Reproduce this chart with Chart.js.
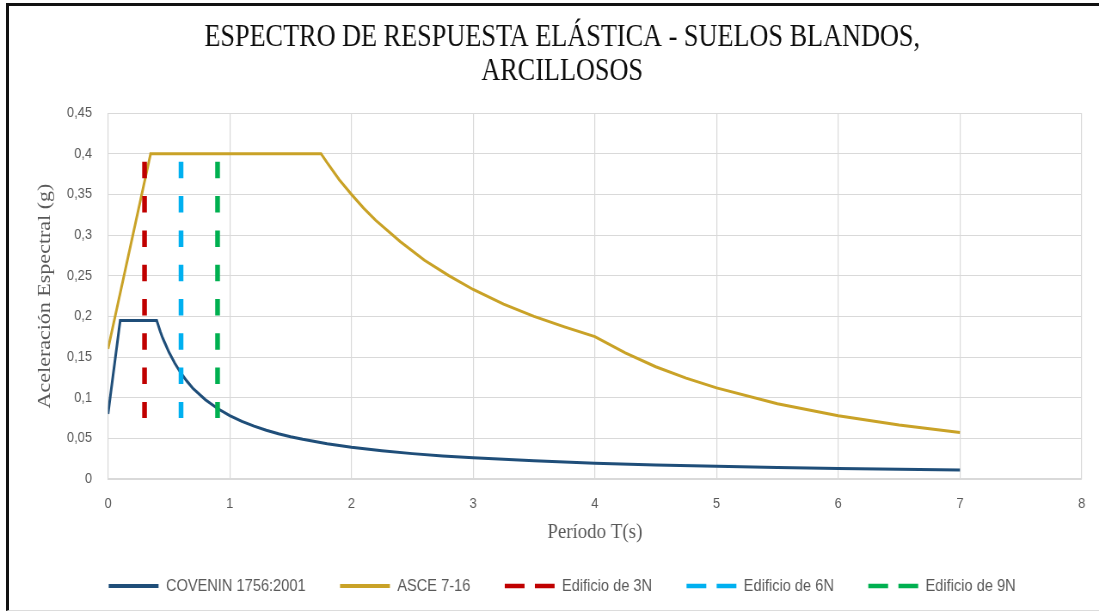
<!DOCTYPE html>
<html>
<head>
<meta charset="utf-8">
<script src="https://cdn.jsdelivr.net/npm/chart.js@4/dist/chart.umd.min.js"></script>
<style>
  html, body { margin: 0; padding: 0; background: #fff; overflow: hidden; }
  #frame { position: absolute; left: 0; top: 0; width: 1099px; height: 613px; }
  /* the chart is laid out on a wider canvas and shown condensed to 1099px */
  #c { position: absolute; left: 0; top: 0; }
  #edge {
    position: absolute; left: 6px; top: 3px; right: 0; height: 604px;
    border-left: 3px solid #111; border-top: 3px solid #111; border-bottom: 1px solid #dcdcdc;
    pointer-events: none;
  }
</style>
</head>
<body>
<div id="frame">
  <canvas id="c" width="1278" height="613" style="width:1099px;height:613px"></canvas>
  <div id="edge"></div>
</div>
<script>
// Chart text
const titleLines = ['ESPECTRO DE RESPUESTA ELÁSTICA - SUELOS BLANDOS,', 'ARCILLOSOS'];
const xTitle = 'Período T(s)';
const yTitle = 'Aceleración Espectral (g)';
const seriesNames = ['COVENIN 1756:2001', 'ASCE 7-16'];
const buildingNames = ['Edificio de 3N', 'Edificio de 6N', 'Edificio de 9N'];

// Tick labels (comma decimal)
const xTickLabels = ['0', '1', '2', '3', '4', '5', '6', '7', '8'];
const yTickLabels = ['0', '0,05', '0,1', '0,15', '0,2', '0,25', '0,3', '0,35', '0,4', '0,45'];

// COVENIN 1756:2001 spectrum: period (s) and spectral acceleration (g)
const periodsCovenin = [0, 0.1, 0.4, 0.43, 0.45, 0.48, 0.5, 0.55, 0.6, 0.65,
  0.7, 0.8, 0.9, 1.0, 1.1, 1.2, 1.3, 1.4, 1.5, 1.6,
  1.8, 2.0, 2.25, 2.5, 2.75, 3.0, 3.5, 4.0, 4.5, 5.0,
  5.5, 6.0, 6.5, 7.0];
const accelCovenin = [0.08, 0.195, 0.195, 0.181, 0.173, 0.163, 0.156, 0.142, 0.130, 0.120,
  0.111, 0.0975, 0.0867, 0.078, 0.0709, 0.065, 0.060, 0.0557, 0.052, 0.0488,
  0.0433, 0.039, 0.0347, 0.0312, 0.0284, 0.026, 0.0223, 0.0195, 0.0173, 0.0156,
  0.0142, 0.013, 0.012, 0.0111];

// ASCE 7-16 spectrum
const periodsAsce = [0, 0.35, 1.75, 1.8, 1.9, 2.0, 2.1, 2.2, 2.4, 2.6,
  2.8, 3.0, 3.25, 3.5, 3.75, 4.0, 4.25, 4.5, 4.75, 5.0,
  5.5, 6.0, 6.5, 7.0];
const accelAsce = [0.16, 0.40, 0.40, 0.389, 0.368, 0.350, 0.333, 0.318, 0.292, 0.269,
  0.250, 0.233, 0.215, 0.200, 0.187, 0.175, 0.155, 0.138, 0.124, 0.112,
  0.0926, 0.0778, 0.0663, 0.0571];

// Fundamental periods of the buildings and the acceleration span of their marker lines
const buildingPeriods = [0.3, 0.6, 0.9];
const markerSpan = [0.39, 0.075];

const GREY = '#595959';
const GRID = '#d9d9d9';
const SANS = "'Liberation Sans', Arial, sans-serif";
const SERIF = "'Liberation Serif', 'Times New Roman', serif";

const toPoints = (xs, ys) => xs.map((x, i) => ({ x: x, y: ys[i] }));

const mainStyles = [
  { color: '#1f4e79' },
  { color: '#c9a227' }
];
const markerStyles = [
  { color: '#c00000' },
  { color: '#00b0f0' },
  { color: '#00b050' }
];

const datasets = [];
seriesNames.forEach((name, i) => {
  const pts = i === 0 ? toPoints(periodsCovenin, accelCovenin) : toPoints(periodsAsce, accelAsce);
  datasets.push({
    label: name,
    data: pts,
    borderColor: mainStyles[i].color,
    backgroundColor: mainStyles[i].color,
    borderWidth: 3,
    pointRadius: 0,
    tension: 0,
    order: 1,
    legendWidth: 4
  });
});
buildingNames.forEach((name, i) => {
  datasets.push({
    label: name,
    data: markerSpan.map(v => ({ x: buildingPeriods[i], y: v })),
    borderColor: markerStyles[i].color,
    backgroundColor: markerStyles[i].color,
    borderWidth: 5.5,
    borderDash: [16.5, 17.8],
    borderCapStyle: 'butt',
    pointRadius: 0,
    order: 0,
    legendDash: [23, 12],
    legendWidth: 4.5
  });
});

new Chart(document.getElementById('c'), {
  type: 'line',
  data: { datasets: datasets },
  options: {
    responsive: false,
    animation: false,
    events: [],
    layout: { padding: { left: 47, right: 17.5, top: 6, bottom: 8.5 } },
    plugins: {
      tooltip: { enabled: false },
      title: {
        display: true,
        text: titleLines,
        color: '#0d0d0d',
        font: { family: SERIF, size: 30.5, weight: 'normal', lineHeight: 1.12 },
        padding: { top: 14.9, bottom: 23.8 }
      },
      legend: {
        position: 'bottom',
        labels: {
          usePointStyle: true,
          pointStyle: 'line',
          pointStyleWidth: 58,
          padding: 40,
          color: GREY,
          font: { family: SANS, size: 17 },
          sort: (a, b) => a.datasetIndex - b.datasetIndex,
          generateLabels(chart) {
            const items = Chart.defaults.plugins.legend.labels.generateLabels(chart);
            items.forEach(it => {
              const ds = chart.data.datasets[it.datasetIndex];
              it.lineDash = ds.legendDash || [];
              it.lineWidth = ds.legendWidth || it.lineWidth;
              it.lineCap = 'butt';
            });
            return items;
          }
        }
      }
    },
    scales: {
      x: {
        type: 'linear',
        min: 0,
        max: 8,
        ticks: {
          stepSize: 1,
          padding: 16,
          color: GREY,
          font: { family: SANS, size: 15 },
          callback: (v, i) => xTickLabels[i]
        },
        grid: { color: GRID, lineWidth: 1.2, drawTicks: false },
        border: { color: GRID, width: 1.2 },
        title: {
          display: true,
          text: xTitle,
          color: GREY,
          font: { family: SERIF, size: 22, lineHeight: 0.5 },
          padding: 0
        },
        afterFit: s => { s.height = 58.5; }
      },
      y: {
        type: 'linear',
        min: 0,
        max: 0.45,
        ticks: {
          stepSize: 0.05,
          padding: 18.6,
          color: GREY,
          font: { family: SANS, size: 15 },
          callback: (v, i) => yTickLabels[i]
        },
        grid: { color: GRID, drawTicks: false },
        border: { color: GRID },
        title: {
          display: true,
          text: yTitle,
          color: GREY,
          font: { family: SERIF, size: 22, lineHeight: 0.5 },
          padding: { top: 0, bottom: 0 }
        },
        afterFit: s => { s.width = 78.6; }
      }
    }
  }
});
</script>
</body>
</html>
